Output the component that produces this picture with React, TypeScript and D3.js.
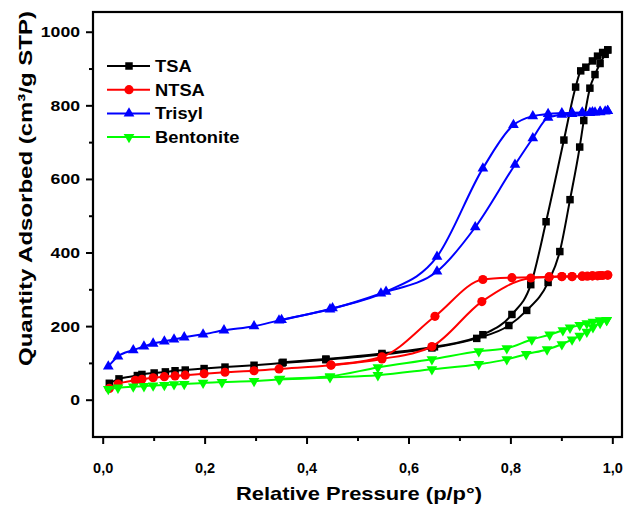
import React from 'react';
import * as d3 from 'd3';

type Pt = [number, number];

// isotermas de adsorção (ads) e dessorção (des)
const tsaAds: Pt[] = [[0.012,46],[0.031,58],[0.067,67],[0.076,70],[0.1,74],[0.122,77],[0.141,80],[0.161,82],[0.198,86],[0.239,90],[0.296,95],[0.351,101],[0.437,110],[0.547,124],[0.645,142],[0.733,168],[0.796,203],[0.831,244],[0.873,320],[0.896,404],[0.916,545],[0.935,688],[0.943,760],[0.955,848],[0.965,885],[0.975,915],[0.985,940],[0.99,952]];
const tsaDes: Pt[] = [[0.99,952],[0.98,945],[0.97,935],[0.96,922],[0.947,905],[0.937,895],[0.927,851],[0.904,707],[0.869,485],[0.839,314],[0.802,233],[0.745,178],[0.65,145],[0.547,127],[0.437,112],[0.353,103]];
const ntsaAds: Pt[] = [[0.012,32],[0.029,44],[0.063,54],[0.076,57],[0.098,61],[0.12,64],[0.141,66],[0.161,68],[0.198,72],[0.239,76],[0.296,80],[0.345,85],[0.447,95],[0.547,112],[0.645,146],[0.743,268],[0.839,332],[0.875,335],[0.9,336],[0.92,336],[0.94,337],[0.95,337],[0.96,338],[0.97,338],[0.98,339],[0.99,340]];
const ntsaDes: Pt[] = [[0.99,340],[0.975,339],[0.96,338],[0.94,337],[0.92,336],[0.9,336],[0.875,335],[0.802,333],[0.745,328],[0.651,228],[0.547,118],[0.447,96]];
const trisylAds: Pt[] = [[0.01,92],[0.029,119],[0.059,136],[0.08,146],[0.098,154],[0.12,160],[0.139,165],[0.159,171],[0.196,179],[0.237,190],[0.296,201],[0.345,217],[0.445,247],[0.545,290],[0.655,350],[0.73,470],[0.808,640],[0.843,712],[0.873,768],[0.9,776],[0.92,778],[0.94,780],[0.955,781],[0.965,782],[0.975,783],[0.985,785],[0.99,786]];
const trisylDes: Pt[] = [[0.99,786],[0.975,784],[0.96,783],[0.94,782],[0.92,781],[0.9,780],[0.873,778],[0.843,772],[0.805,748],[0.745,630],[0.655,390],[0.555,295],[0.45,250],[0.35,218]];
const bentAds: Pt[] = [[0.01,30],[0.029,34],[0.059,37],[0.08,38],[0.098,40],[0.12,41],[0.139,43],[0.159,44],[0.196,47],[0.233,49],[0.296,52],[0.345,56],[0.445,62],[0.539,68],[0.645,84],[0.737,98],[0.792,111],[0.83,125],[0.871,138],[0.9,152],[0.92,165],[0.935,175],[0.949,186],[0.961,198],[0.975,210],[0.988,218]];
const bentDes: Pt[] = [[0.988,218],[0.975,217],[0.961,213],[0.949,209],[0.935,204],[0.916,197],[0.902,190],[0.876,178],[0.841,165],[0.792,141],[0.737,133],[0.645,111],[0.539,89],[0.445,65],[0.347,58]];

const xTicks = [0, 0.2, 0.4, 0.6, 0.8, 1.0];
const xMinor = [0.1, 0.3, 0.5, 0.7, 0.9];
const yTicks = [0, 200, 400, 600, 800, 1000];
const yMinor = [100, 300, 500, 700, 900];

const series = [
  { name: 'TSA', color: '#000000', shape: 'square', ads: tsaAds, des: tsaDes },
  { name: 'NTSA', color: '#ff0000', shape: 'circle', ads: ntsaAds, des: ntsaDes },
  { name: 'Trisyl', color: '#0000ff', shape: 'up', ads: trisylAds, des: trisylDes },
  { name: 'Bentonite', color: '#00ff00', shape: 'down', ads: bentAds, des: bentDes },
];

const W = 624, H = 506;
const L = 93, R = 622, T = 12, B = 437;
const font = '"Liberation Sans", Arial, sans-serif';

const x = d3.scaleLinear().domain([-0.02, 1.018]).range([L, R]);
const y = d3.scaleLinear().domain([-100, 1055]).range([B, T]);

const line = d3.line<Pt>().x(d => x(d[0])).y(d => y(d[1])).curve(d3.curveMonotoneX);

const sym = {
  square: d3.symbol().type(d3.symbolSquare).size(56)(),
  circle: d3.symbol().type(d3.symbolCircle).size(66)(),
  up: d3.symbol().type(d3.symbolTriangle).size(50)(),
};

function Marker({ shape, cx, cy, color }: { shape: string; cx: number; cy: number; color: string }) {
  const d = shape === 'down' ? sym.up : (sym as any)[shape];
  const rot = shape === 'down' ? ' rotate(180)' : '';
  return <path d={d as string} transform={`translate(${cx},${cy})${rot}`} fill={color} />;
}

export default function App() {
  return (
    <svg width={W} height={H} style={{ position: 'absolute', left: 0, top: 0 }} fontFamily={font}>
      <rect width={W} height={H} fill="#fff" />
      {series.map(s => {
        const sortedAds = [...s.ads].sort((a, b) => a[0] - b[0]);
        const sortedDes = [...s.des].sort((a, b) => a[0] - b[0]);
        return (
          <g key={s.name}>
            <path d={line(sortedAds) as string} fill="none" stroke={s.color} strokeWidth={2} />
            <path d={line(sortedDes) as string} fill="none" stroke={s.color} strokeWidth={2} />
            {[...s.ads, ...s.des].map((p, i) => (
              <Marker key={i} shape={s.shape} cx={x(p[0])} cy={y(p[1])} color={s.color} />
            ))}
          </g>
        );
      })}
      {/* moldura */}
      <rect x={L} y={T} width={R - L} height={B - T} fill="none" stroke="#000" strokeWidth={2.2} />
      {/* eixo X */}
      {xTicks.map(t => (
        <g key={t}>
          <line x1={x(t)} x2={x(t)} y1={B} y2={B + 7} stroke="#000" strokeWidth={2} />
          <text x={x(t)} y={473} textAnchor="middle" fontSize={14.5} fontWeight="bold">
            {t.toFixed(1).replace('.', ',')}
          </text>
        </g>
      ))}
      {xMinor.map(t => (
        <line key={t} x1={x(t)} x2={x(t)} y1={B} y2={B + 4} stroke="#000" strokeWidth={2} />
      ))}
      {/* eixo Y */}
      {yTicks.map(t => {
        const s = String(t);
        return (
          <g key={t}>
            <line x1={L} x2={L - 7} y1={y(t)} y2={y(t)} stroke="#000" strokeWidth={2} />
            <text x={80 - s.length * 9.8} y={y(t) + 5} fontSize={14.5} fontWeight="bold"
              textLength={s.length * 9.8} lengthAdjust="spacingAndGlyphs">{s}</text>
          </g>
        );
      })}
      {yMinor.map(t => (
        <line key={t} x1={L} x2={L - 4} y1={y(t)} y2={y(t)} stroke="#000" strokeWidth={2} />
      ))}
      <text x={236} y={500} fontSize={18.5} fontWeight="bold" textLength={246} lengthAdjust="spacingAndGlyphs">
        Relative Pressure (p/p°)
      </text>
      <text transform="translate(32,366) rotate(-90)" fontSize={18.5} fontWeight="bold"
        textLength={355} lengthAdjust="spacingAndGlyphs">
        Quantity Adsorbed (cm³/g STP)
      </text>
      {/* legenda */}
      {series.map((s, i) => {
        const ly = 66 + i * 23.7;
        return (
          <g key={s.name}>
            <line x1={107} x2={150} y1={ly} y2={ly} stroke={s.color} strokeWidth={2} />
            <Marker shape={s.shape} cx={129} cy={ly} color={s.color} />
            <text transform={`translate(155,${ly + 6}) scale(1.11,1)`} fontSize={16.5} fontWeight="bold">{s.name}</text>
          </g>
        );
      })}
    </svg>
  );
}
